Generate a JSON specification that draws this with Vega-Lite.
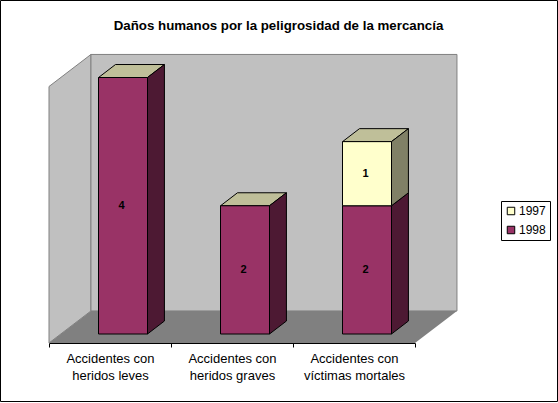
{
  "$schema": "https://vega.github.io/schema/vega-lite/v6.json",
  "padding": {"left": 0, "top": 0, "right": 1, "bottom": 1},
  "width": 557,
  "height": 401,
  "background": "#ffffff",
  "view": {"stroke": "#000000", "strokeWidth": 1},
  "title": {
    "text": "Daños humanos por la peligrosidad de la mercancía",
    "anchor": "middle",
    "frame": "group",
    "offset": -32,
    "font": "Liberation Sans",
    "fontSize": 13.3,
    "fontWeight": "bold",
    "color": "#000000"
  },
  "datasets": {
    "danos": [
      {"categoria": "Accidentes con heridos leves", "anio": 1998, "valor": 4},
      {"categoria": "Accidentes con heridos graves", "anio": 1998, "valor": 2},
      {"categoria": "Accidentes con víctimas mortales", "anio": 1998, "valor": 2},
      {"categoria": "Accidentes con víctimas mortales", "anio": 1997, "valor": 1}
    ],
    "profundidad": [{"z": 0}, {"z": 1}]
  },
  "resolve": {"scale": {"x": "independent"}},
  "layer": [
    {
      "data": {"name": "profundidad"},
      "transform": [
        {"calculate": "0.344 * datum.z", "as": "x0"},
        {"calculate": "3 + 0.344 * datum.z", "as": "x1"},
        {"calculate": "0.5 * datum.z", "as": "y0"},
        {"calculate": "4 + 0.5 * datum.z", "as": "y1"}
      ],
      "encoding": {
        "x": {"field": "x0", "type": "quantitative", "axis": null, "scale": {"domain": [0, 3], "range": [49, 415], "nice": false, "zero": false}},
        "y": {"field": "y1", "type": "quantitative", "axis": null, "scale": {"domain": [0, 4], "range": [343, 86.5], "nice": false, "zero": false}}
      },
      "layer": [
        {
          "mark": {"type": "area", "orient": "vertical", "fill": "#c0c0c0", "stroke": "#808080", "strokeWidth": 1},
          "encoding": {"y2": {"field": "y0"}}
        },
        {
          "transform": [{"filter": "datum.z == 1"}],
          "mark": {"type": "rect", "fill": "#c0c0c0", "stroke": "#808080", "strokeWidth": 1},
          "encoding": {"x2": {"field": "x1"}, "y2": {"field": "y0"}}
        },
        {
          "mark": {"type": "area", "orient": "horizontal", "fill": "#808080"},
          "encoding": {
            "y": {"field": "y0", "type": "quantitative", "axis": null, "scale": {"domain": [0, 4], "range": [343, 86.5], "nice": false, "zero": false}},
            "x2": {"field": "x1"}
          }
        }
      ]
    },
    {
      "data": {"name": "danos"},
      "transform": [
        {"stack": "valor", "groupby": ["categoria"], "sort": [{"field": "anio", "order": "descending"}], "as": ["v0", "v1"]},
        {"calculate": "indexof(['Accidentes con heridos leves', 'Accidentes con heridos graves', 'Accidentes con víctimas mortales'], datum.categoria)", "as": "ix"},
        {"calculate": "[0, 1]", "as": "z"},
        {"flatten": ["z"]},
        {"calculate": "datum.ix + 0.406 + 0.139 * datum.z", "as": "izq"},
        {"calculate": "datum.ix + 0.807 + 0.139 * datum.z", "as": "der"},
        {"calculate": "datum.v0 + 0.14 + 0.2027 * datum.z", "as": "abajo"},
        {"calculate": "datum.v1 + 0.14 + 0.2027 * datum.z", "as": "arriba"}
      ],
      "layer": [
        {
          "mark": {"type": "area", "orient": "horizontal", "fill": "#bfbf99", "stroke": "#000000", "strokeWidth": 1},
          "encoding": {
            "detail": [{"field": "categoria"}, {"field": "anio"}],
            "y": {"field": "arriba", "type": "quantitative", "axis": null, "scale": {"domain": [0, 4], "range": [343, 86.5], "nice": false, "zero": false}},
            "x": {"field": "izq", "type": "quantitative", "axis": null, "scale": {"domain": [0, 3], "range": [49, 415], "nice": false, "zero": false}},
            "x2": {"field": "der"}
          }
        },
        {
          "mark": {"type": "area", "orient": "vertical", "stroke": "#000000", "strokeWidth": 1},
          "encoding": {
            "detail": [{"field": "categoria"}, {"field": "anio"}],
            "x": {"field": "der", "type": "quantitative", "axis": null, "scale": {"domain": [0, 3], "range": [49, 415], "nice": false, "zero": false}},
            "y": {"field": "arriba", "type": "quantitative", "axis": null, "scale": {"domain": [0, 4], "range": [343, 86.5], "nice": false, "zero": false}},
            "y2": {"field": "abajo"},
            "fill": {"condition": {"test": "datum.anio == 1997", "value": "#808066"}, "value": "#4d1933"}
          }
        }
      ]
    },
    {
      "data": {"name": "danos"},
      "encoding": {
        "x": {
          "field": "categoria",
          "type": "nominal",
          "sort": null,
          "title": null,
          "scale": {
            "type": "band",
            "domain": ["Accidentes con heridos leves", "Accidentes con heridos graves", "Accidentes con víctimas mortales"],
            "range": [49, 415],
            "paddingInner": 0,
            "paddingOuter": 0
          },
          "axis": {
            "orient": "bottom",
            "offset": -58,
            "grid": false,
            "tickBand": "extent",
            "tickSize": 4,
            "tickColor": "#000000",
            "domainColor": "#000000",
            "labelAngle": 0,
            "labelAlign": "center",
            "labelBaseline": "top",
            "labelFont": "Liberation Sans",
            "labelFontSize": 13,
            "labelColor": "#000000",
            "labelPadding": 5,
            "labelLineHeight": 17,
            "labelLimit": 0,
            "labelOverlap": false,
            "labelExpr": "isString(datum.value) ? [substring(datum.value, 0, 14), substring(datum.value, 15)] : ''"
          }
        }
      },
      "layer": [
        {
          "mark": {"type": "bar", "width": 49, "xOffset": 13, "yOffset": -9, "y2Offset": -9, "stroke": "#000000", "strokeWidth": 1},
          "encoding": {
            "y": {"field": "valor", "type": "quantitative", "stack": "zero", "axis": null, "scale": {"domain": [0, 4], "range": [343, 86.5], "nice": false, "zero": false}},
            "order": {"field": "anio", "sort": "descending"},
            "fill": {
              "field": "anio",
              "type": "nominal",
              "scale": {"domain": [1997, 1998], "range": ["#ffffcc", "#993366"]},
              "legend": {
                "title": null,
                "orient": "none",
                "legendX": 501,
                "legendY": 201,
                "padding": 4,
                "strokeColor": "#000000",
                "fillColor": "#ffffff",
                "symbolType": "square",
                "symbolSize": 56,
                "symbolStrokeColor": "#000000",
                "symbolStrokeWidth": 1,
                "rowPadding": 7,
                "labelFont": "Liberation Sans",
                "labelFontSize": 12,
                "labelColor": "#000000",
                "labelOffset": 2
              }
            }
          }
        },
        {
          "transform": [
            {"stack": "valor", "groupby": ["categoria"], "sort": [{"field": "anio", "order": "descending"}], "as": ["v0", "v1"]},
            {"calculate": "(datum.v0 + datum.v1) / 2", "as": "medio"}
          ],
          "mark": {"type": "text", "dx": 11.5, "dy": -9, "font": "Liberation Sans", "fontSize": 11, "fontWeight": "bold", "color": "#000000"},
          "encoding": {
            "y": {"field": "medio", "type": "quantitative", "axis": null, "scale": {"domain": [0, 4], "range": [343, 86.5], "nice": false, "zero": false}},
            "text": {"field": "valor", "type": "quantitative"}
          }
        }
      ]
    }
  ]
}
